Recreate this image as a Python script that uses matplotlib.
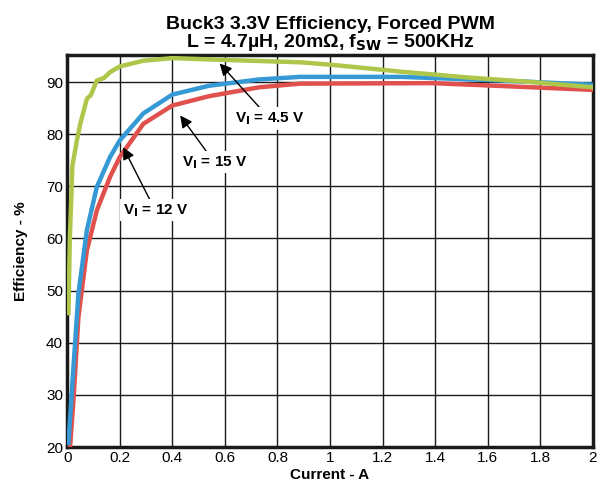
import numpy as np
import matplotlib as mpl
import matplotlib.pyplot as plt

plt.rcParams.update({
    'font.family': ['Liberation Sans', 'DejaVu Sans'],
    'xtick.labelsize': 11,
    'ytick.labelsize': 11,
})

# data
x_45 = [0.005, 0.01, 0.02, 0.037, 0.05, 0.075, 0.09, 0.113, 0.14, 0.163, 0.2, 0.29, 0.40, 0.57, 0.886, 1.01, 1.27, 1.52, 1.77, 2.0]
y_45 = [45.7, 59.7, 74.0, 78.8, 82.0, 86.8, 87.5, 90.3, 90.8, 91.9, 93.0, 94.1, 94.6, 94.3, 93.8, 93.3, 92.0, 90.9, 90.0, 89.0]

x_12 = [0.005, 0.024, 0.043, 0.075, 0.113, 0.163, 0.2, 0.29, 0.40, 0.54, 0.73, 0.886, 1.27, 1.65, 2.0]
y_12 = [20.8, 35.4, 49.5, 61.6, 69.9, 75.6, 78.8, 84.0, 87.6, 89.3, 90.5, 91.0, 91.0, 90.3, 89.5]

x_15 = [0.011, 0.024, 0.043, 0.075, 0.113, 0.163, 0.2, 0.29, 0.40, 0.54, 0.73, 0.886, 1.39, 1.77, 2.0]
y_15 = [20.0, 29.0, 45.0, 57.7, 65.4, 71.8, 75.6, 82.0, 85.5, 87.3, 89.0, 89.7, 89.8, 89.0, 88.5]

fig = plt.figure(figsize=(6.05, 4.98), dpi=100)
ax = fig.add_axes([0.111, 0.1024, 0.869, 0.7872])

ax.plot(x_15, y_15, color='#e0514d', lw=3.2, zorder=3)
ax.plot(x_12, y_12, color='#3599d6', lw=3.2, zorder=4)
ax.plot(x_45, y_45, color='#aec64a', lw=3.2, zorder=5)

ax.set_xlim(0, 2)
ax.set_ylim(20, 95.2)
ax.set_xticks(np.arange(0, 2.01, 0.2))
ax.set_xticklabels(['0', '0.2', '0.4', '0.6', '0.8', '1', '1.2', '1.4', '1.6', '1.8', '2'])
ax.set_yticks(np.arange(20, 91, 10))
ax.grid(True, color='#1a1a1a', lw=1)
ax.tick_params(length=0, pad=3)
for s in ax.spines.values():
    s.set_linewidth(2.5)
    s.set_color('#1a1a1a')

ax.set_xlabel('Current - A', fontweight='bold', fontsize=11, labelpad=2)
ax.set_ylabel('Efficiency - %', fontweight='bold', fontsize=11, labelpad=13)
ax.set_title('Buck3 3.3V Efficiency, Forced PWM\nL = 4.7µH, 20mΩ, f$_{\\mathbf{SW}}$ = 500KHz',
             fontweight='bold', fontsize=14, linespacing=0.9, pad=6)

arrow = dict(arrowstyle='-|>', color='black', lw=1, mutation_scale=18, shrinkA=0, shrinkB=0)
box = dict(facecolor='white', edgecolor='none', pad=2)
ax.annotate('V$_\\mathbf{I}$ = 4.5 V', xy=(0.58, 93.6), xytext=(0.77, 83.0), fontweight='bold',
            fontsize=11, ha='center', va='center', bbox=box, arrowprops=arrow, zorder=6)
ax.annotate('V$_\\mathbf{I}$ = 15 V', xy=(0.43, 83.6), xytext=(0.56, 74.6), fontweight='bold',
            fontsize=11, ha='center', va='center', bbox=box, arrowprops=arrow, zorder=6)
ax.annotate('V$_\\mathbf{I}$ = 12 V', xy=(0.213, 77.5), xytext=(0.335, 65.4), fontweight='bold',
            fontsize=11, ha='center', va='center', bbox=box, arrowprops=arrow, zorder=6)

plt.savefig('out.png', dpi=100)
